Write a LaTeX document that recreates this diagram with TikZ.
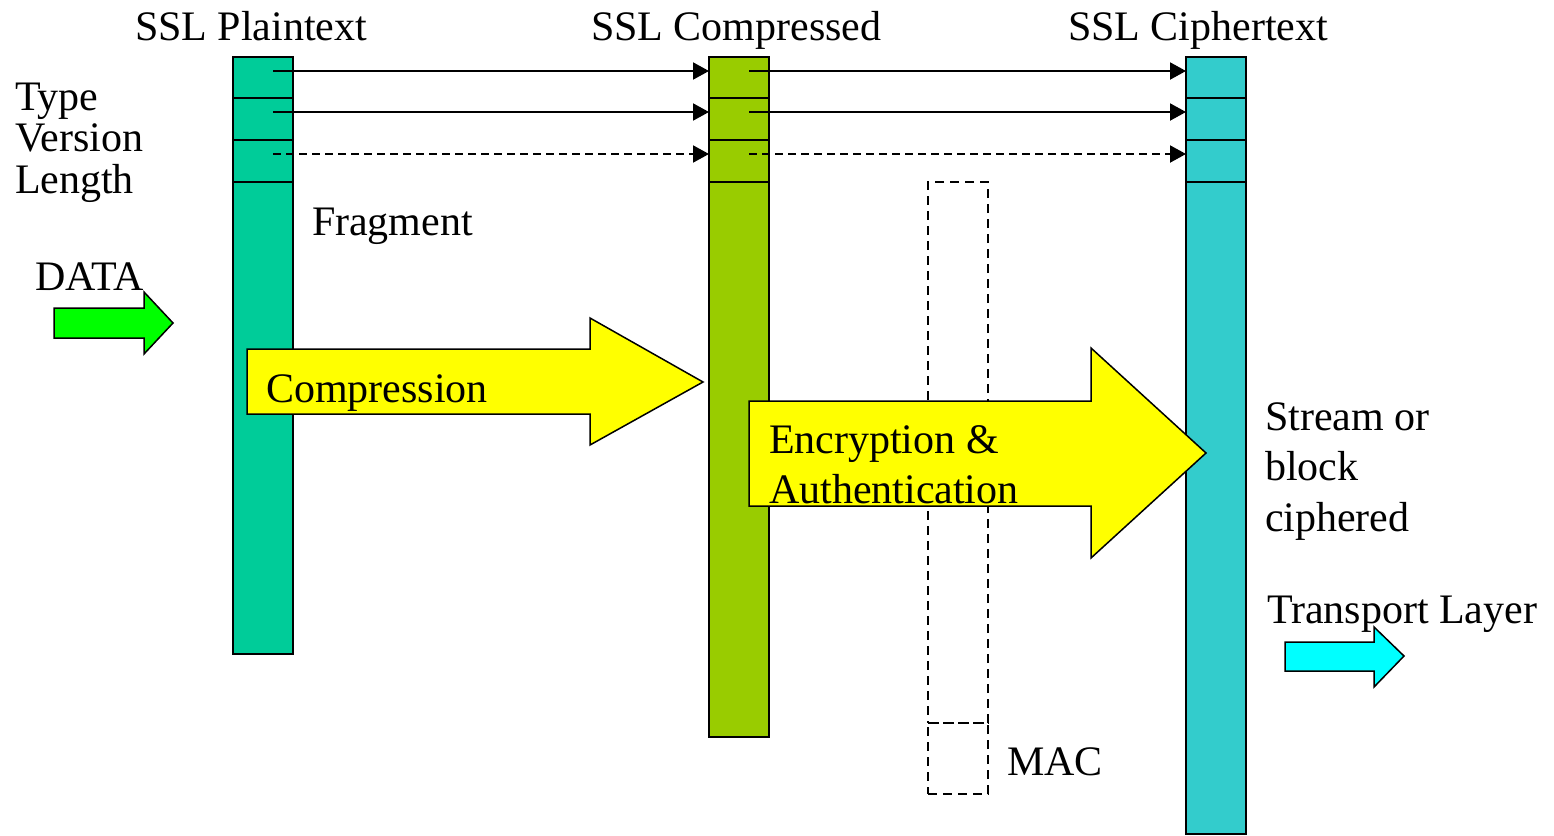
\documentclass[tikz,border=0pt]{standalone}
\usepackage{fontspec}
\setmainfont{Liberation Serif}
\usetikzlibrary{arrows.meta}

\definecolor{plaincol}{HTML}{00CC99}
\definecolor{compcol}{HTML}{99CC00}
\definecolor{ciphcol}{HTML}{33CCCC}
\definecolor{bigyellow}{HTML}{FFFF00}
\definecolor{datagreen}{HTML}{00FF00}
\definecolor{transcyan}{HTML}{00FFFF}

\tikzset{
  cell/.style={draw=black, line width=1.5pt, inner sep=0pt, outer sep=0pt,
    minimum width=60pt, anchor=north west},
  lbl/.style={inner sep=0pt, outer sep=0pt, anchor=base west,
    font=\fontsize{42}{42}\selectfont},
  field/.style={line width=2pt, -{Triangle[length=16pt,width=17pt]}},
  fielddash/.style={field, dash pattern=on 8pt off 5pt},
  macbox/.style={draw=black, line width=1.3pt, dash pattern=on 9pt off 6pt,
    inner sep=0pt, outer sep=0pt, minimum width=60pt, anchor=north west},
  fatarrow/.style={draw=black, line width=1.5pt, line join=miter},
}

\begin{document}
\begin{tikzpicture}[x=1pt, y=-1pt]
\useasboundingbox (0,0) rectangle (1554,835);

% SSL Plaintext record
\node[cell, fill=plaincol, minimum height=41pt] (p1) at (233,57) {};
\node[cell, fill=plaincol, minimum height=42pt] (p2) at (233,98) {};
\node[cell, fill=plaincol, minimum height=42pt] (p3) at (233,140) {};
\node[cell, fill=plaincol, minimum height=472pt] (pb) at (233,182) {};

% SSL Compressed record
\node[cell, fill=compcol, minimum height=41pt] (c1) at (709,57) {};
\node[cell, fill=compcol, minimum height=42pt] (c2) at (709,98) {};
\node[cell, fill=compcol, minimum height=42pt] (c3) at (709,140) {};
\node[cell, fill=compcol, minimum height=555pt] (cb) at (709,182) {};

% SSL Ciphertext record
\node[cell, fill=ciphcol, minimum height=41pt] (x1) at (1186,57) {};
\node[cell, fill=ciphcol, minimum height=42pt] (x2) at (1186,98) {};
\node[cell, fill=ciphcol, minimum height=42pt] (x3) at (1186,140) {};
\node[cell, fill=ciphcol, minimum height=652pt] (xb) at (1186,182) {};

% MAC appended to the fragment
\node[macbox, minimum height=541pt] (frag) at (928,182) {};
\node[macbox, minimum height=71pt] (mac) at (928,723) {};

% start points of the header field arrows (upper part of each cell)
\coordinate (sp1) at ([shift={(10,-6.5)}]p1.center);
\coordinate (sp2) at ([shift={(10,-7)}]p2.center);
\coordinate (sp3) at ([shift={(10,-7)}]p3.center);
\coordinate (sc1) at ([shift={(10,-6.5)}]c1.center);
\coordinate (sc2) at ([shift={(10,-7)}]c2.center);
\coordinate (sc3) at ([shift={(10,-7)}]c3.center);

% header fields copied from record to record
\draw[field] (sp1) -- (c1.west |- sp1);
\draw[field] (sp2) -- (c2.west |- sp2);
\draw[fielddash] (sp3) -- (c3.west |- sp3);
\draw[field] (sc1) -- (x1.west |- sc1);
\draw[field] (sc2) -- (x2.west |- sc2);
\draw[fielddash] (sc3) -- (x3.west |- sc3);

% block arrows
\draw[fatarrow, fill=datagreen] (54,308) -- (144,308) -- (144,292) -- (173,323)
  -- (144,354) -- (144,338) -- (54,338) -- cycle;
\draw[fatarrow, fill=bigyellow] (247,349) -- (590,349) -- (590,318) -- (703,382)
  -- (590,445) -- (590,414) -- (247,414) -- cycle;
\draw[fatarrow, fill=bigyellow] (749,401) -- (1091,401) -- (1091,348) -- (1206,453)
  -- (1091,558) -- (1091,506) -- (749,506) -- cycle;
\draw[fatarrow, fill=transcyan] (1285,642) -- (1374,642) -- (1374,627) -- (1404,656)
  -- (1374,687) -- (1374,671) -- (1285,671) -- cycle;

% labels
\node[lbl] (tplain) at (135,40) {SSL Plaintext};
\node[lbl] (tcomp) at (591,40) {SSL Compressed};
\node[lbl] (tciph) at (1068,40) {SSL Ciphertext};
\node[lbl] (ltype) at (15,110) {Type};
\node[lbl] (lver) at (15,151) {Version};
\node[lbl] (llen) at (15,193) {Length};
\node[lbl] (lfrag) at (312,235) {Fragment};
\node[lbl] (ldata) at (35,290) {DATA};
\node[lbl] (lcomp) at (266,402) {Compression};
\node[lbl] (lenc) at (769,453) {Encryption \&};
\node[lbl] (lauth) at (769,503) {Authentication};
\node[lbl] (lstream) at (1265,430) {Stream or};
\node[lbl] (lblock) at (1265,480) {block};
\node[lbl] (lciph) at (1265,531) {ciphered};
\node[lbl] (ltrans) at (1267,623) {Transport Layer};
\node[lbl] (lmac) at (1007,775) {MAC};
\end{tikzpicture}
\end{document}
